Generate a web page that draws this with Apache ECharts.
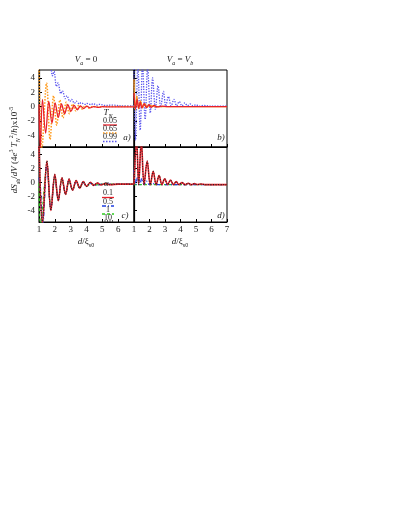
<!DOCTYPE html>
<html><head><meta charset="utf-8">
<script src="https://cdn.jsdelivr.net/npm/echarts@6/dist/echarts.min.js"></script>
<style>html,body{margin:0;padding:0;background:#fff}#c{width:398px;height:515px}</style>
</head><body><div id="c"></div>
<script>
const xTicks = [1, 2, 3, 4, 5, 6, 7];
const yTicks = [-4, -2, 0, 2, 4];
const legendA = ['0.05', '0.65', '0.99'];
const legendC = ['0.1', '0.5', '1', '10'];

// Panel a: V_a = 0, T_N series
const aRed = [[1.0,0.3],[1.08,-5.9],[1.22,1.0],[1.42,-3.7],[1.62,0.7],[1.82,-2.3],[2.02,0.5],[2.22,-1.5],[2.42,0.35],[2.62,-1.0],[2.82,0.25],[3.02,-0.65],[3.22,0.15],[3.42,-0.45],[3.62,0.1],[3.82,-0.3],[4.02,0.05],[4.22,-0.2],[4.45,0.0],[4.7,-0.12],[5.0,-0.02],[5.5,-0.06],[7,-0.05]];
const aOrange = [[1.0,5.8],[1.18,-5.9],[1.48,3.3],[1.7,-4.6],[1.92,1.5],[2.12,-2.6],[2.32,0.9],[2.52,-1.6],[2.72,0.6],[2.92,-1.0],[3.12,0.35],[3.32,-0.6],[3.52,0.2],[3.72,-0.35],[3.92,0.1],[4.12,-0.2],[4.4,0.0],[4.7,-0.08],[5.2,0],[7,0]];
const aBlue = [[1.75,5.8],[1.85,4.3],[1.95,4.9],[2.1,2.8],[2.2,3.3],[2.38,1.8],[2.48,2.2],[2.66,1.1],[2.76,1.5],[2.95,0.7],[3.05,1.0],[3.25,0.45],[3.35,0.75],[3.55,0.35],[3.65,0.55],[3.9,0.3],[4.0,0.45],[4.3,0.25],[4.4,0.4],[4.7,0.2],[4.8,0.3],[5.2,0.15],[5.6,0.2],[6.2,0.1],[7,0.1]];

// Panel b: V_a = V_b, T_N series
const bRed = [[1.0,1.9],[1.1,-0.3],[1.2,1.0],[1.3,-0.2],[1.4,0.6],[1.5,-0.2],[1.65,0.4],[1.8,-0.15],[1.95,0.25],[2.1,-0.1],[2.3,0.15],[2.5,-0.05],[2.8,0.05],[3.2,0],[7,0]];
const bOrange = [[1.0,3.8],[1.08,-0.5],[1.18,1.5],[1.3,-0.3],[1.42,0.8],[1.55,-0.2],[1.7,0.4],[1.85,-0.1],[2.0,0.2],[2.3,0],[7,0]];
const bBlue = [[1.0,6],[1.1,-4.7],[1.25,6],[1.4,-3.3],[1.55,6],[1.72,-1.8],[1.88,5.5],[2.05,-0.9],[2.2,4.0],[2.38,-0.4],[2.55,2.9],[2.72,-0.1],[2.9,2.1],[3.05,0.05],[3.22,1.4],[3.4,0.1],[3.58,1.0],[3.75,0.1],[3.92,0.7],[4.1,0.1],[4.28,0.5],[4.45,0.1],[4.62,0.35],[4.8,0.1],[5.0,0.25],[5.2,0.05],[5.5,0.15],[6,0.05],[7,0.05]];

// Panel c: V_a = 0, alpha series
const cRed = [[1.0,5.8],[1.22,-5.9],[1.5,3.1],[1.75,-4.0],[2.0,1.2],[2.22,-2.6],[2.45,0.7],[2.68,-1.7],[2.9,0.5],[3.12,-1.1],[3.35,0.3],[3.57,-0.8],[3.8,0.15],[4.0,-0.55],[4.25,0.05],[4.45,-0.4],[4.7,-0.05],[4.9,-0.35],[5.2,-0.15],[5.5,-0.3],[6,-0.22],[7,-0.22]];
const cBlue = [[1.0,0.7],[1.08,-0.4],[1.24,-5.9],[1.5,2.6],[1.75,-3.7],[2.0,0.9],[2.22,-2.4],[2.45,0.5],[2.68,-1.6],[2.9,0.3],[3.12,-1.0],[3.35,0.15],[3.57,-0.7],[3.8,0.05],[4.0,-0.5],[4.3,-0.1],[4.5,-0.4],[5,-0.22],[7,-0.22]];
const cGreen = [[1.0,-0.1],[1.1,-5.9],[1.5,2.2],[1.75,-3.5],[2.0,0.7],[2.22,-2.3],[2.45,0.4],[2.68,-1.5],[2.9,0.2],[3.12,-1.0],[3.35,0.1],[3.57,-0.7],[3.8,0.0],[4.0,-0.5],[4.3,-0.15],[4.5,-0.35],[5,-0.22],[7,-0.22]];
const cBlack = [[1.0,5.8],[1.22,-5.9],[1.5,3.1],[1.75,-4.0],[2.0,1.1],[2.22,-2.6],[2.45,0.7],[2.68,-1.7],[2.9,0.5],[3.12,-1.1],[3.35,0.3],[3.57,-0.8],[3.8,0.15],[4.0,-0.55],[4.25,0.05],[4.45,-0.4],[4.7,-0.05],[4.9,-0.35],[5.2,-0.15],[5.5,-0.3],[6,-0.22],[7,-0.22]];

// Panel d: V_a = V_b, alpha series
const dRed = [[1.0,-0.3],[1.17,6],[1.3,-0.3],[1.47,6],[1.65,-0.3],[1.85,3.1],[2.05,-0.3],[2.24,1.6],[2.43,-0.3],[2.62,1.0],[2.8,-0.3],[2.98,0.55],[3.17,-0.3],[3.35,0.35],[3.55,-0.3],[3.72,0.15],[3.9,-0.3],[4.1,0.0],[4.3,-0.3],[4.5,-0.1],[4.7,-0.3],[4.9,-0.15],[5.1,-0.3],[5.3,-0.2],[5.6,-0.3],[7,-0.3]];
const dBlue = [[1.0,1.8],[1.12,-0.3],[1.25,1.0],[1.38,-0.3],[1.5,0.6],[1.65,-0.3],[1.8,0.2],[2.0,-0.3],[2.2,-0.1],[2.4,-0.3],[7,-0.3]];
const dGreen = [[1.0,-0.3],[7,-0.3]];
const dBlack = dRed.map(p => p.slice());

const FONT = 'Liberation Serif';
const grids = [
  {left:39, top:70, width:95, height:77},
  {left:134, top:70, width:93, height:77},
  {left:39, top:147, width:95, height:75},
  {left:134, top:147, width:93, height:75}
];
function xAx(i, labels, hide7) {
  return {type:'value', gridIndex:i, min:1, max:7, interval:1,
    axisLine:{show:true, onZero:false, lineStyle:{color:'#000', width:1}},
    axisTick:{show:true, inside:true, length:3, lineStyle:{color:'#000'}},
    axisLabel:{show:labels, margin:3, fontFamily:FONT, fontSize:9, color:'#222',
      formatter: v => (hide7 && v === 7) ? '' : String(v)},
    splitLine:{show:false}};
}
function yAx(i, labels) {
  return {type:'value', gridIndex:i, min:-5.65, max:5.1,
    axisLine:{show:true, onZero:false, lineStyle:{color:'#000', width:1.2}},
    axisTick:{show:true, inside:true, length:3, customValues:yTicks, lineStyle:{color:'#000'}},
    axisLabel:{show:labels, margin:4, customValues:yTicks, fontFamily:FONT, fontSize:9, color:'#222'},
    splitLine:{show:false}};
}
function ser(i, data, color, type, width, z) {
  return {type:'line', xAxisIndex:i, yAxisIndex:i, data:data, showSymbol:false, smooth:0.35,
    clip:true, z:z||2, animation:false,
    lineStyle:{color:color, width:width||1.2, type:type||'solid'}};
}
const richBase = {
  n:{fontFamily:FONT, fontSize:9, color:'#222'},
  i:{fontFamily:FONT, fontSize:9, fontStyle:'italic', color:'#222'},
  sub:{fontFamily:FONT, fontSize:6, color:'#222', verticalAlign:'bottom', lineHeight:13},
  isub:{fontFamily:FONT, fontSize:6, fontStyle:'italic', color:'#222', verticalAlign:'bottom', lineHeight:13},
  sup:{fontFamily:FONT, fontSize:6, color:'#222', verticalAlign:'top', lineHeight:13}
};
function txt(x, y, text, rot, size) {
  return {type:'text', x:x, y:y, rotation:rot||0, z:10,
    style:{text:text, rich:richBase, align:'center', verticalAlign:'middle',
      fontFamily:FONT, fontSize:size||9, fill:'#222'}};
}
function lline(x1, x2, y, color, dash) {
  return {type:'line', z:10, shape:{x1:x1, y1:y, x2:x2, y2:y},
    style:{stroke:color, lineWidth:1.3, lineDash:dash||null}};
}
const graphics = [
  txt(86, 60, '{i|V}{isub|a}{n| = 0}'),
  txt(180, 60, '{i|V}{isub|a}{n| = }{i|V}{isub|b}'),
  txt(86, 242, '{i|d}{n|/ξ}{sub|s0}'),
  txt(180, 242, '{i|d}{n|/ξ}{sub|s0}'),
  txt(15, 150, '{i|dS}{sub|ab}{n|/}{i|dV}{n| (4}{i|e}{sup|3}{n| }{i|T}{isub|N}{sup|2}{n|/}{i|h}{n|)x10}{sup|-5}', Math.PI/2),
  txt(127, 138, '{i|a)}'), txt(221, 138, '{i|b)}'),
  txt(125, 216, '{i|c)}'), txt(221, 216, '{i|d)}'),
  txt(108, 113, '{i|T}{isub|N}'),
  txt(110, 121, legendA[0], 0, 8), lline(103, 117, 125, '#e8202a'),
  txt(110, 129, legendA[1], 0, 8), lline(103, 117, 133, '#ff9a1a', [1.5,1.5]),
  txt(110, 137, legendA[2], 0, 8), lline(103, 117, 141.5, '#5a55ee', [1.5,1.5]),
  txt(106, 184, '{i|α}'),
  txt(108, 193, legendC[0], 0, 8), lline(102, 114, 197.5, '#e8202a'),
  txt(108, 202, legendC[1], 0, 8), lline(102, 114, 206, '#1f3fe0', [4,2,1,2]),
  txt(108, 210, legendC[2], 0, 8), lline(102, 114, 214, '#2ecc1f', [3,2]),
  txt(108, 218, legendC[3], 0, 8), lline(102, 114, 221, '#222', [1,1.5])
];
const option = {
  backgroundColor:'#fff',
  animation:false,
  grid: grids.map(g => Object.assign({show:true, borderColor:'#000', borderWidth:1, containLabel:false}, g)),
  xAxis:[xAx(0,false,false), xAx(1,false,false), xAx(2,true,true), xAx(3,true,false)],
  yAxis:[yAx(0,true), yAx(1,false), yAx(2,true), yAx(3,false)],
  series:[
    ser(0, aBlue, '#5a55ee', 'dotted', 1.3),
    ser(0, aOrange, '#ff9a1a', 'dotted', 1.5),
    ser(0, aRed, '#e8202a', 'solid', 1.3, 3),
    ser(1, bBlue, '#5a55ee', 'dotted', 1.3),
    ser(1, bOrange, '#ff9a1a', 'solid', 1.3),
    ser(1, bRed, '#e8202a', 'solid', 1.3, 3),
    ser(2, cGreen, '#2ecc1f', [3,2], 1.3),
    ser(2, cBlue, '#1f3fe0', [4,2,1,2], 1.3),
    ser(2, cRed, '#e8202a', 'solid', 1.6, 3),
    ser(2, cBlack, '#222', [1,1.5], 1.1, 4),
    ser(3, dGreen, '#2ecc1f', [3,2], 1.3),
    ser(3, dBlue, '#1f3fe0', [4,2,1,2], 1.3),
    ser(3, dRed, '#e8202a', 'solid', 1.6, 3),
    ser(3, dBlack, '#222', [1,1.5], 1.1, 4)
  ],
  graphic: graphics
};
const chart = echarts.init(document.getElementById('c'), null, {renderer:'canvas'});
chart.setOption(option);
</script></body></html>
